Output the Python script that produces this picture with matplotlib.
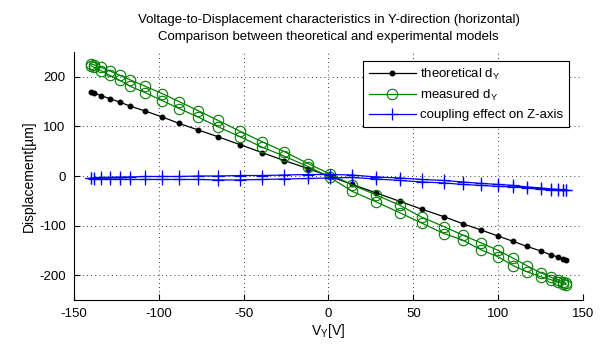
import numpy as np
import matplotlib
matplotlib.use('Agg')
import matplotlib.pyplot as plt

plt.rcParams['font.family'] = ['Liberation Sans', 'DejaVu Sans']
plt.rcParams['mathtext.default'] = 'regular'
plt.rcParams['axes.unicode_minus'] = False
plt.rcParams['font.size'] = 9

# voltage samples of one sweep
v_sweep = [-140, -138, -134, -129, -123, -117, -108, -98, -88, -77, -65, -52, -39, -26, -12,
           1, 14, 28, 42, 55, 68, 79, 90, 100, 109, 117, 125, 131, 135, 138, 140]

# theoretical d_Y (single line)
d_theo = [169, 167, 162, 156, 149, 141, 131, 119, 106, 93, 79, 63, 47, 31, 15,
          -1, -17, -34, -51, -67, -82, -96, -109, -121, -132, -142, -151, -159, -163, -167, -169]

# measured d_Y, two branches of the loop
d_meas_a = [226, 224, 219, 212, 203, 194, 181, 166, 150, 132, 112, 90, 69, 49, 25,
            4, -18, -38, -59, -83, -102, -119, -135, -150, -166, -181, -195, -204, -209, -213, -216]
d_meas_b = [222, 219, 212, 203, 193, 181, 168, 152, 136, 119, 99, 79, 58, 40, 19,
            -3, -31, -52, -74, -95, -116, -129, -149, -163, -181, -193, -203, -209, -213, -217, -219]

# coupling on Z, two branches
d_z_a = [-4, -4, -3, -3, -2, -2, -1, -1, -1, 0, 0, 1, 1, 2, 3,
         3, 2, -2, -4, -7, -9, -12, -15, -17, -19, -22, -24, -26, -27, -28, -28]
d_z_b = [-5, -6, -6, -6, -6, -7, -7, -7, -7, -7, -8, -8, -7, -6, -5,
         -4, -3, -6, -9, -12, -14, -17, -19, -21, -22, -24, -27, -28, -29, -29, -28]

x_ticks = [-150, -100, -50, 0, 50, 100, 150]
y_ticks = [-200, -100, 0, 100, 200]

v = np.array(v_sweep)
v_loop = np.concatenate([v, v[::-1]])
meas_loop = np.concatenate([d_meas_a, d_meas_b[::-1]])
z_loop = np.concatenate([d_z_a, d_z_b[::-1]])

fig = plt.figure(figsize=(6.04, 3.49), dpi=100)
ax = fig.add_axes([0.1225, 0.1404, 0.8427, 0.7106])

ax.plot(v, d_theo, color='black', lw=0.9, marker='.', ms=6.5, label='theoretical d$_Y$')
ax.plot(v_loop, meas_loop, color='#008000', lw=0.9, marker='o', ms=7.5, mfc='none',
        mew=0.8, label='measured d$_Y$')
ax.plot(v_loop, z_loop, color='blue', lw=0.9, marker='+', ms=9, mew=0.9,
        label='coupling effect on Z-axis')

ax.set_xlim(-150, 150)
ax.set_ylim(-250, 250)
ax.set_xticks(x_ticks)
ax.set_yticks(y_ticks)
ax.grid(True, color='black', linestyle=(0, (1, 4)), lw=0.6)
ax.tick_params(direction='in', length=4, labelsize=9.5, width=0.8, pad=6)
for s in ['top', 'right']:
    ax.spines[s].set_visible(False)
for s in ['left', 'bottom']:
    ax.spines[s].set_linewidth(0.8)

ax.set_xlabel('V$_Y$[V]', fontsize=10, labelpad=1)
ax.set_ylabel('Displacement[\u00b5m]', fontsize=10, labelpad=2)
ax.set_title('Voltage-to-Displacement characteristics in Y-direction (horizontal)\n'
             'Comparison between theoretical and experimental models',
             fontsize=9.5, pad=9, linespacing=1.45)

leg = ax.legend(loc='upper right', bbox_to_anchor=(0.986, 0.99), fancybox=False,
                framealpha=1, edgecolor='black', fontsize=9.5, borderpad=0.45,
                labelspacing=0.45, handlelength=3.6, handletextpad=0.3)
leg.get_frame().set_linewidth(0.8)

fig.savefig('out.png', dpi=100)
